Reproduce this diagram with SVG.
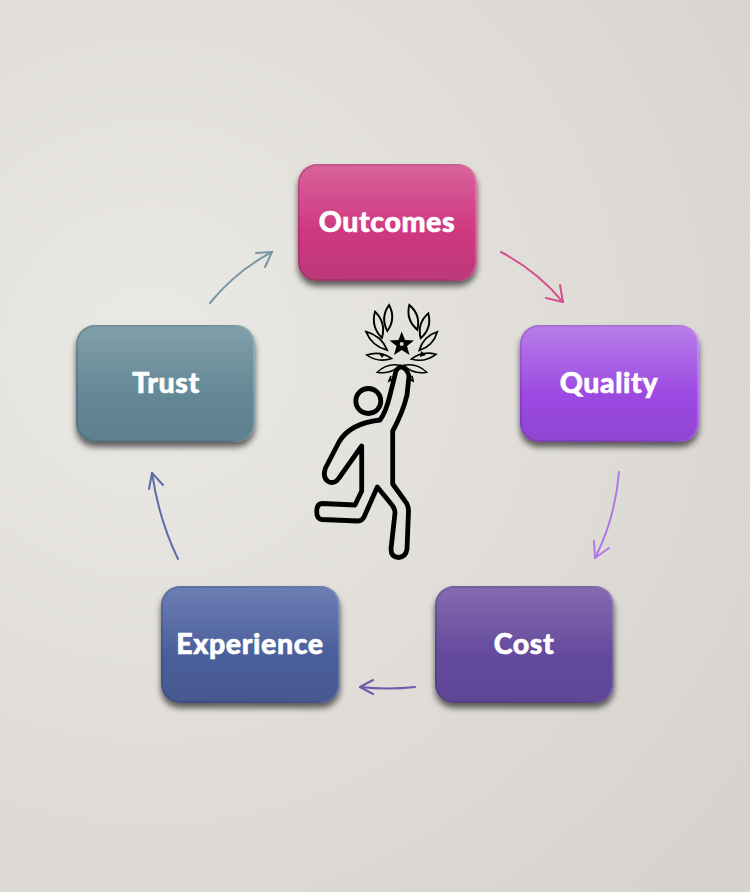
<svg xmlns="http://www.w3.org/2000/svg" width="750" height="892" viewBox="0 0 750 892">
<style>
.box{filter:url(#sh)}
.rim{fill:none;stroke:url(#rimG);stroke-width:2}
.lbl{font-family:"Lato","Liberation Sans",sans-serif;font-weight:900;font-size:28.500px;letter-spacing:.6px;fill:#fff;stroke:#fff;stroke-width:.6;text-anchor:middle}
.cn{fill:none;stroke-width:2;stroke-linecap:round;stroke-linejoin:round}
.fig{fill:none;stroke:#000;stroke-width:4.8;stroke-linejoin:round;stroke-linecap:round}
.leaf{fill:none;stroke:#000;stroke-width:1.7}
</style>
<defs>
<radialGradient id="bg" gradientUnits="userSpaceOnUse" cx="150" cy="350" r="760">
<stop offset="0" stop-color="#ebe9e5"/><stop offset="1" stop-color="#d6d3ce"/>
</radialGradient>
<filter id="sh" x="-15%" y="-15%" width="130%" height="135%">
<feDropShadow dx="0" dy="5" stdDeviation="3" flood-color="#000" flood-opacity=".6"/>
</filter>
<linearGradient id="rimG" x1="0" y1="0" x2="1" y2="0">
<stop offset="0" stop-color="#000" stop-opacity=".12"/><stop offset=".85" stop-color="#000" stop-opacity=".08"/><stop offset=".96" stop-color="#fff" stop-opacity=".06"/><stop offset="1" stop-color="#fff" stop-opacity=".2"/>
</linearGradient>
<linearGradient id="gO" x1="0" y1="0" x2="0" y2="1"><stop offset="0" stop-color="#d9639b"/><stop offset=".6" stop-color="#ce3780"/><stop offset="1" stop-color="#bb3a78"/></linearGradient>
<linearGradient id="gQ" x1="0" y1="0" x2="0" y2="1"><stop offset="0" stop-color="#b87fe9"/><stop offset=".6" stop-color="#9c48e2"/><stop offset="1" stop-color="#9046d2"/></linearGradient>
<linearGradient id="gC" x1="0" y1="0" x2="0" y2="1"><stop offset="0" stop-color="#866bb1"/><stop offset=".6" stop-color="#644a9c"/><stop offset="1" stop-color="#5e4695"/></linearGradient>
<linearGradient id="gE" x1="0" y1="0" x2="0" y2="1"><stop offset="0" stop-color="#6d7fb3"/><stop offset=".6" stop-color="#4a5e9b"/><stop offset="1" stop-color="#46598f"/></linearGradient>
<linearGradient id="gT" x1="0" y1="0" x2="0" y2="1"><stop offset="0" stop-color="#81a0aa"/><stop offset=".6" stop-color="#648895"/><stop offset="1" stop-color="#5e808c"/></linearGradient>
<path id="lf" d="M0 0Q13 -7 26 0Q13 7 0 0Z"/>
</defs>
<rect id="background" width="750" height="892" fill="url(#bg)"/>
<g id="connectors">
<g class="cn" stroke="#d5508f"><path d="M501 252Q537 271 563 302"/><path d="M546 298L563 302L560 285"/></g>
<g class="cn" stroke="#b077e6"><path d="M619 472Q615 519 595 558"/><path d="M594 541L595 558L609 548"/></g>
<g class="cn" stroke="#7459ab"><path d="M415 687Q388 690 360 687"/><path d="M373 680L360 687L373 694"/></g>
<g class="cn" stroke="#5a6da8"><path d="M178 559Q159 520 152 473"/><path d="M149 489L152 473L163 485"/></g>
<g class="cn" stroke="#7896a2"><path d="M210 303Q236 271 272 252"/><path d="M256 253L272 252L265 267"/></g>
</g>
<g id="node-outcomes"><rect class="box" x="298" y="164" width="179" height="117" rx="19" fill="url(#gO)"/><rect class="rim" x="299" y="165" width="177" height="115" rx="18"/><text class="lbl" x="387" y="232">Outcomes</text></g>
<g id="node-quality"><rect class="box" x="520" y="325" width="179" height="117" rx="19" fill="url(#gQ)"/><rect class="rim" x="521" y="326" width="177" height="115" rx="18"/><text class="lbl" x="609" y="393">Quality</text></g>
<g id="node-cost"><rect class="box" x="435" y="586" width="179" height="117" rx="19" fill="url(#gC)"/><rect class="rim" x="436" y="587" width="177" height="115" rx="18"/><text class="lbl" x="524" y="654">Cost</text></g>
<g id="node-experience"><rect class="box" x="161" y="586" width="179" height="117" rx="19" fill="url(#gE)"/><rect class="rim" x="162" y="587" width="177" height="115" rx="18"/><text class="lbl" x="250" y="654">Experience</text></g>
<g id="node-trust"><rect class="box" x="76" y="325" width="179" height="117" rx="19" fill="url(#gT)"/><rect class="rim" x="77" y="326" width="177" height="115" rx="18"/><text class="lbl" x="166" y="393">Trust</text></g>
<g id="figure">
<circle class="fig" cx="368.300" cy="401" r="12.500"/>
<path class="fig" d="M395 375L390 395Q386 412 380 420C362 422 347 428 339 442L325.500 468Q322 478 329 482Q335 484 339 478L361.700 446L361.700 491L355 505L322 503.500Q316.700 504 316.700 511.500Q316.700 519 322 519.500L358 521Q362 521 364 517L377.300 487L392 505Q395 509 395 513L391 549Q391 557 398.500 557.500Q406 557 407 549L408.500 511Q408.500 505 405 501L392.700 484L392.700 431Q403 412 407 395L409 376Q407 368 401 367Q396 368 395 375Z"/>
<path d="M401.700 331.500L405 340L414 340.500L407 346L409.500 355L401.700 350L394 355L396.500 346L389.500 340.500L398.500 340Z" fill="#000"/>
<circle cx="401.700" cy="344" r="2" fill="#d9d7d2"/>
<g class="leaf">
<use href="#lf" transform="translate(387.300 331) rotate(-86) scale(1 1.15)"/>
<use href="#lf" transform="translate(375 311.700) rotate(75) scale(1.04 1.15)"/>
<use href="#lf" transform="translate(366 331.700) rotate(41) scale(1.08 1)"/>
<use href="#lf" transform="translate(366.700 355) rotate(8) scale(.97 .9)"/>
<use href="#lf" transform="translate(377.300 372.300) rotate(-17) scale(.92 .9)"/>
<use href="#lf" transform="translate(409.300 305) rotate(72) scale(1 1.15)"/>
<use href="#lf" transform="translate(428.300 313.300) rotate(107) scale(1 1.15)"/>
<use href="#lf" transform="translate(437.300 331.700) rotate(134) scale(1 1)"/>
<use href="#lf" transform="translate(436 354.300) rotate(169) scale(.97 .9)"/>
<use href="#lf" transform="translate(426.700 372.300) rotate(197) scale(.92 .9)"/>
</g>
<path d="M379 353.500L385 354L382 358ZM421 351L426 355L420 357Z" fill="#000"/>
<path class="leaf" d="M391 376L389 381L393 379M412 376L413 381L409 379"/>
</g>
</svg>
